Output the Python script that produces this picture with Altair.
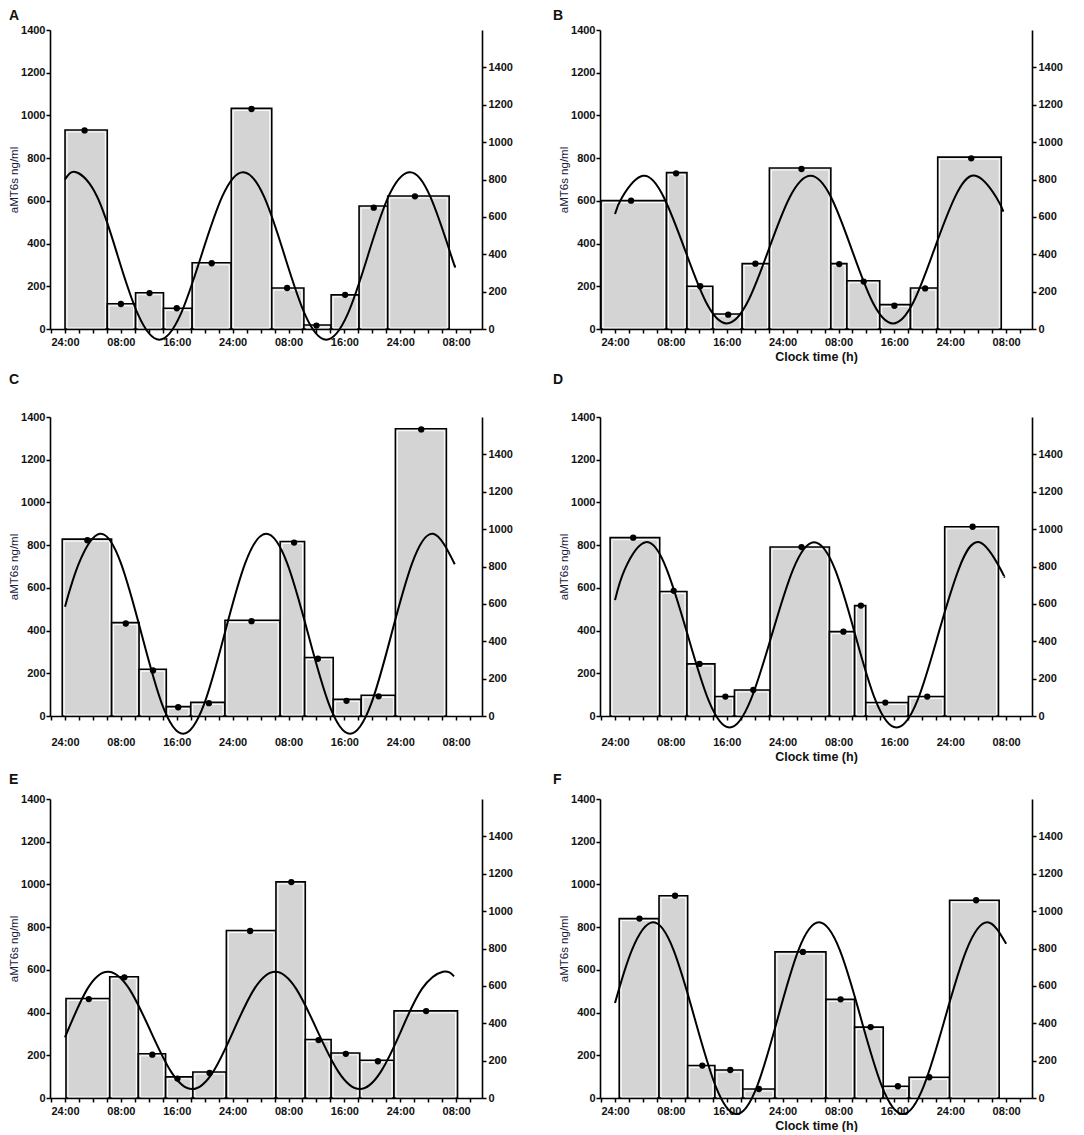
import altair as alt
import pandas as pd

FONT = "Liberation Sans"

# ---------------- data ----------------
# Panel A
A_edges = [0, 6.05, 10.1, 14.1, 18.2, 23.8, 29.6, 34.2, 38.1, 42.1, 46.2, 55.0]
A_values = [932, 118, 170, 97, 310, 1033, 192, 19, 160, 576, 623]
A_dot_t = [2.8, 8.0, 12.1, 16.0, 21.0, 26.7, 31.8, 36.0, 40.1, 44.2, 50.1]
A_dot_v = [930, 117, 168, 97, 308, 1030, 192, 16, 160, 568, 621]
A_curve_t = [0, 1.6, 4.6, 7.55, 10.5, 13.5, 16.5, 19.5, 22.5, 25.5, 28.5, 31.45,
             34.4, 37.4, 40.4, 43.35, 46.3, 49.3, 52.3, 55.3, 55.8]
A_curve_v = [800, 839, 708, 391, 74, -57, 74, 391, 708, 839, 708, 391,
             74, -57, 74, 391, 708, 839, 708, 391, 340]

# Panel B
B_edges = [-2.0, 7.37, 10.3, 14.0, 18.2, 22.1, 30.9, 33.2, 37.9, 42.3, 46.2, 55.3]
B_values = [601, 732, 200, 70, 306, 754, 306, 226, 114, 192, 805]
B_dot_t = [2.3, 8.75, 12.2, 16.2, 20.1, 26.7, 32.1, 35.6, 40.0, 44.4, 51.0]
B_dot_v = [601, 729, 200, 67, 306, 749, 304, 222, 109, 190, 799]
B_curve_t = [0, 1, 4, 7, 10, 13, 16, 19, 22, 25, 28, 30.95, 33.9, 36.85, 39.8,
             42.75, 45.7, 48.65, 51.6, 54.6, 55.6]
B_curve_v = [615, 704, 820, 704, 425, 146, 30, 146, 425, 704, 820, 704, 425, 146, 30,
             146, 425, 704, 820, 704, 628]

# Panel C
C_edges = [-0.4, 6.67, 10.6, 14.5, 18.0, 22.9, 30.8, 34.3, 38.4, 42.4, 47.3, 54.6]
C_values = [828, 437, 219, 44, 64, 448, 817, 274, 78, 97, 1345]
C_dot_t = [3.2, 8.7, 12.6, 16.2, 20.6, 26.7, 32.8, 36.2, 40.3, 44.9, 51.0]
C_dot_v = [823, 433, 213, 41, 60, 444, 812, 268, 71, 92, 1342]
C_curve_t = [0, 2, 5, 8, 10.95, 13.9, 16.9, 19.9, 22.85, 25.8, 28.8, 31.8, 34.8,
             37.8, 40.8, 43.8, 46.75, 49.7, 52.7, 55.8]
C_curve_v = [585, 818, 975, 818, 440, 62, -95, 62, 440, 818, 975, 818, 440,
             62, -95, 62, 440, 818, 975, 812]

# Panel D
D_edges = [-0.7, 6.4, 10.3, 14.3, 17.1, 22.2, 30.7, 34.3, 35.9, 42.0, 47.2, 54.9]
D_values = [835, 583, 244, 91, 122, 791, 395, 517, 63, 91, 886]
D_dot_t = [2.6, 8.4, 12.1, 15.8, 19.8, 26.7, 32.7, 35.2, 38.7, 44.7, 51.2]
D_dot_v = [835, 586, 244, 91, 122, 791, 395, 517, 63, 91, 886]
D_curve_t = [0, 1.4, 4.4, 7.4, 10.4, 13.4, 16.4, 19.4, 22.45, 25.5, 28.5, 31.5, 34.4,
             37.3, 40.3, 43.3, 46.25, 49.2, 52.2, 55.2, 55.7]
D_curve_v = [620, 785, 930, 785, 434, 83, -62, 83, 434, 785, 930, 785, 434,
             83, -62, 83, 434, 785, 930, 785, 745]

# Panel E
E_edges = [0.14, 6.4, 10.5, 14.4, 18.3, 23.1, 30.2, 34.4, 38.1, 42.2, 47.1, 56.2]
E_values = [466, 568, 207, 99, 122, 784, 1012, 274, 211, 177, 408]
E_dot_t = [3.4, 8.5, 12.5, 16.1, 20.7, 26.5, 32.4, 36.3, 40.2, 44.8, 51.7]
E_dot_v = [463, 565, 203, 91, 117, 782, 1011, 271, 207, 172, 407]
E_curve_t = [0, 3.2, 6.2, 9.2, 12.2, 15.2, 18.2, 21.2, 24.15, 27.1, 30.1, 33.1, 36.1,
             39.15, 42.2, 45.2, 48.15, 51.1, 54.1, 55.7]
E_curve_v = [325, 584, 676, 584, 362, 140, 48, 140, 362, 584, 676, 584, 362,
             140, 48, 140, 362, 584, 676, 651]

# Panel F
F_edges = [0.6, 6.3, 10.4, 14.3, 18.3, 22.9, 30.2, 34.3, 38.4, 42.1, 47.9, 55.0]
F_values = [840, 947, 152, 131, 42, 684, 462, 332, 55, 97, 926]
F_dot_t = [3.5, 8.6, 12.5, 16.5, 20.6, 26.9, 32.3, 36.6, 40.5, 45.0, 51.7]
F_dot_v = [840, 947, 152, 131, 42, 684, 462, 332, 55, 97, 926]
F_curve_t = [0, 2.4, 5.4, 8.4, 11.4, 14.4, 17.4, 20.35, 23.3, 26.25, 29.2, 32.2, 35.2,
             38.2, 41.2, 44.2, 47.25, 50.3, 53.3, 56.0]
F_curve_v = [508, 790, 940, 790, 427, 64, -86, 64, 427, 790, 940, 790, 427,
             64, -86, 64, 427, 790, 940, 825]

X_TICKS = list(range(-2, 59, 2))
LEFT_TICKS = [0, 200, 400, 600, 800, 1000, 1200, 1400]
RIGHT_TICKS = [0, 200, 400, 600, 800, 1000, 1200, 1400]

W, H = 432, 299

LABEL_EXPR = ("datum.value >= 0 && datum.value % 8 == 0 ? "
              "(datum.value % 24 == 0 ? '24:00' : (datum.value % 24 == 8 ? '08:00' : '16:00')) : ''")


def x_enc(field, show_title, label_pad):
    return alt.X(
        f"{field}:Q",
        scale=alt.Scale(domain=[-2.15, 59.7], nice=False, zero=False),
        axis=alt.Axis(values=X_TICKS, labelExpr=LABEL_EXPR, labelOverlap=False,
                      labelFlush=False, labelPadding=label_pad,
                      title="Clock time (h)" if show_title else None,
                      titleFontWeight="bold", titleFontSize=12.5, titlePadding=3,
                      titleColor="#111"),
    )


def panel(letter, edges, values, dot_t, dot_v, curve_t, curve_v,
          show_xtitle, title_offset, label_pad, dx):
    bars_df = pd.DataFrame({"start": edges[:-1], "end": edges[1:],
                            "value": values, "base": [0] * len(values)})
    dots_df = pd.DataFrame({"t": dot_t, "v": dot_v})
    curve_df = pd.DataFrame({"t": curve_t, "v": curve_v})

    yleft = alt.Scale(domain=[0, 1400], nice=False)
    left_axis = alt.Axis(values=LEFT_TICKS, format="d", title="aMT6s ng/ml",
                         titleFontWeight="normal", titleFontSize=11.5, titlePadding=1,
                         labelPadding=1, titleColor="#1a1a3c")

    bars = alt.Chart(bars_df).mark_rect(fill="#d4d4d4", stroke="black", strokeWidth=1.6).encode(
        x=x_enc("start", show_xtitle, label_pad), x2="end:Q",
        y=alt.Y("value:Q", scale=yleft, axis=left_axis), y2="base:Q")

    inner = alt.Chart(bars_df).mark_rect(
        fillOpacity=0, stroke="white", strokeWidth=1,
        xOffset=2, x2Offset=-2, yOffset=2, y2Offset=-1).encode(
        x=x_enc("start", show_xtitle, label_pad), x2="end:Q",
        y=alt.Y("value:Q", scale=yleft, axis=None), y2="base:Q")

    curve = alt.Chart(curve_df).mark_line(color="black", strokeWidth=2, interpolate="natural").encode(
        x=x_enc("t", show_xtitle, label_pad),
        y=alt.Y("v:Q", scale=alt.Scale(domain=[0, 1600], nice=False),
                axis=alt.Axis(orient="right", values=RIGHT_TICKS, format="d",
                              title=None, labelPadding=2)))

    dots = alt.Chart(dots_df).mark_circle(size=40, color="black", opacity=1).encode(
        x=x_enc("t", show_xtitle, label_pad),
        y=alt.Y("v:Q", scale=yleft, axis=None))

    return alt.layer(bars, inner, curve, dots).resolve_scale(y="independent").properties(
        width=W, height=H,
        title=alt.TitleParams(letter, anchor="start", frame="group", dx=dx,
                              offset=title_offset, fontSize=14, fontWeight="bold",
                              font=FONT, color="#111"))


row1 = alt.hconcat(
    panel("A", A_edges, A_values, A_dot_t, A_dot_v, A_curve_t, A_curve_v, False, 1, 3, -41),
    panel("B", B_edges, B_values, B_dot_t, B_dot_v, B_curve_t, B_curve_v, True, 1, 3, -47),
    spacing=40)
row2 = alt.hconcat(
    panel("C", C_edges, C_values, C_dot_t, C_dot_v, C_curve_t, C_curve_v, False, 24, 16, -41),
    panel("D", D_edges, D_values, D_dot_t, D_dot_v, D_curve_t, D_curve_v, True, 24, 16, -47),
    spacing=40)
row3 = alt.hconcat(
    panel("E", E_edges, E_values, E_dot_t, E_dot_v, E_curve_t, E_curve_v, False, 6, 3, -41),
    panel("F", F_edges, F_values, F_dot_t, F_dot_v, F_curve_t, F_curve_v, True, 6, 3, -47),
    spacing=40)

chart = alt.vconcat(row1, row2, row3, spacing=10).properties(
    padding={"left": 0, "top": 1, "right": 5, "bottom": 0}
).configure_axis(
    domainColor="black", domainWidth=1.6, tickColor="black", tickWidth=1.5, tickSize=4,
    labelFont=FONT, labelFontWeight="bold", labelFontSize=11, labelColor="#111",
    titleFont=FONT, grid=False
).configure_view(strokeWidth=0).configure_concat(spacing=10)

chart.save("out.html", embed_options={"renderer": "svg", "actions": False})
